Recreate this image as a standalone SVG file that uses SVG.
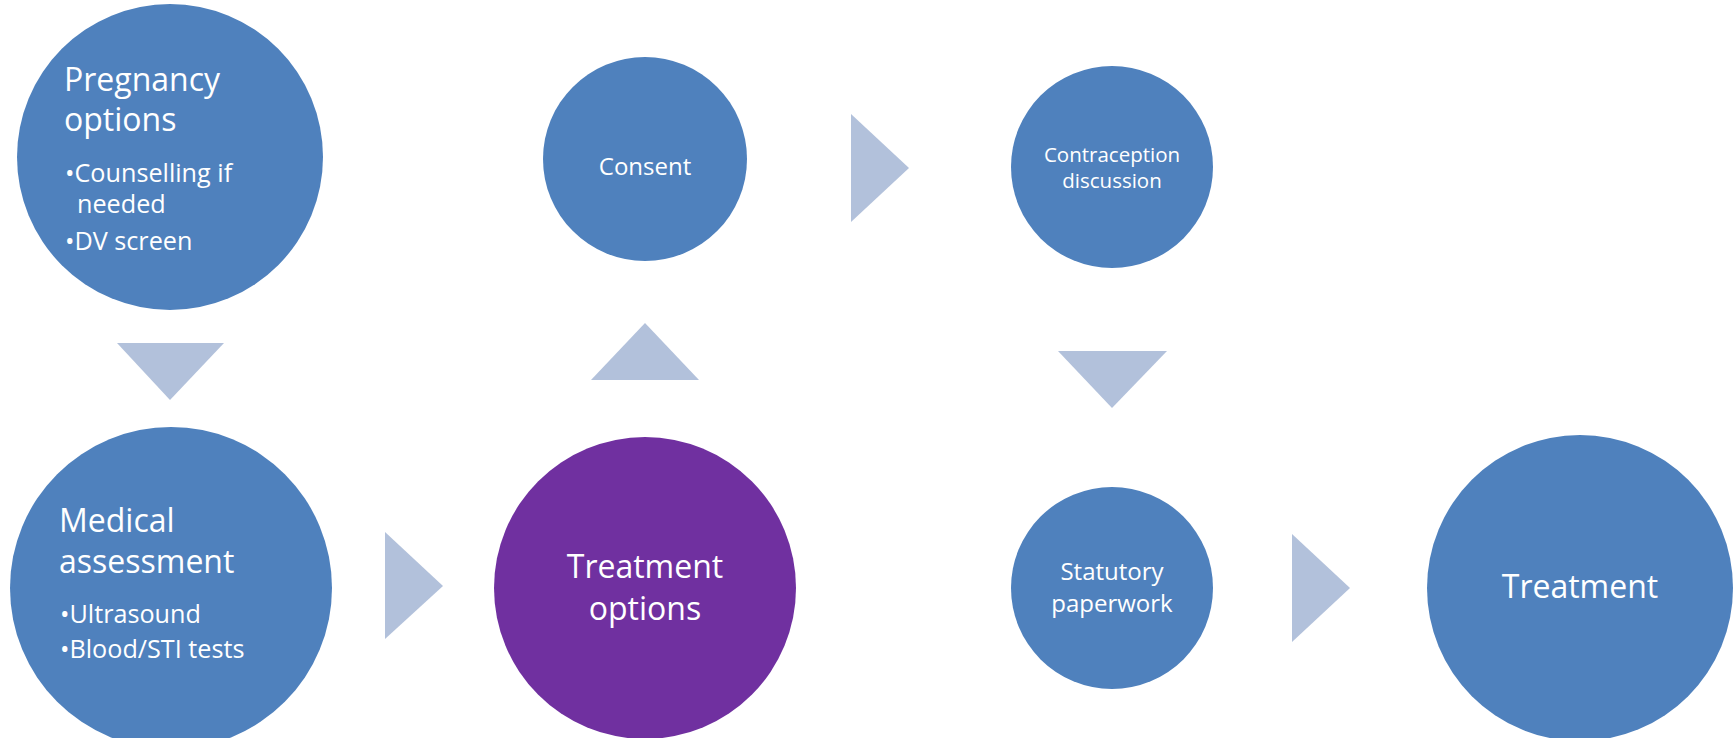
<svg xmlns="http://www.w3.org/2000/svg" width="1735" height="738" viewBox="0 0 1735 738">
<style>
.blue{fill:#4F81BD}
.purple{fill:#7030A0}
.arr{fill:#B2C1DB}
text{font-family:"Open Sans","Noto Sans","DejaVu Sans",sans-serif;fill:#FFFFFF}
.t{font-size:32px}
.b{font-size:25.2px}
.c{text-anchor:middle}
</style>
<rect width="1735" height="738" fill="#FFFFFF"/>
<g id="connectors">
<polygon class="arr" points="117,343 224,343 170,400"/>
<polygon class="arr" points="385,532 443,586 385,639"/>
<polygon class="arr" points="591,380 699,380 645,323"/>
<polygon class="arr" points="851,114 909,168 851,222"/>
<polygon class="arr" points="1058,351 1167,351 1112,408"/>
<polygon class="arr" points="1292,534 1350,588 1292,642"/>
</g>
<g id="pregnancy-options">
<circle class="blue" cx="170" cy="157" r="153"/>
<text class="t" x="64" y="91">Pregnancy</text>
<text class="t" x="64" y="131">options</text>
<text class="b" x="65" y="182">•Counselling if</text>
<text class="b" x="77" y="213">needed</text>
<text class="b" x="65" y="250">•DV screen</text>
</g>
<g id="medical-assessment">
<circle class="blue" cx="171" cy="588" r="161"/>
<text class="t" x="59" y="532">Medical</text>
<text class="t" x="59" y="573">assessment</text>
<text class="b" x="60" y="623">•Ultrasound</text>
<text class="b" x="60" y="658">•Blood/STI tests</text>
</g>
<g id="treatment-options">
<circle class="purple" cx="645" cy="588" r="151"/>
<text class="t c" x="645" y="578">Treatment</text>
<text class="t c" x="645" y="620">options</text>
</g>
<g id="consent">
<circle class="blue" cx="645" cy="159" r="102"/>
<text class="c" x="645" y="175" font-size="24">Consent</text>
</g>
<g id="contraception-discussion">
<circle class="blue" cx="1112" cy="167" r="101"/>
<text class="c" x="1112" y="162" font-size="20.5">Contraception</text>
<text class="c" x="1112" y="188" font-size="20.5">discussion</text>
</g>
<g id="statutory-paperwork">
<circle class="blue" cx="1112" cy="588" r="101"/>
<text class="c" x="1112" y="580" font-size="24">Statutory</text>
<text class="c" x="1112" y="612" font-size="24">paperwork</text>
</g>
<g id="treatment">
<circle class="blue" cx="1580" cy="588" r="153"/>
<text class="t c" x="1580" y="598">Treatment</text>
</g>
</svg>
